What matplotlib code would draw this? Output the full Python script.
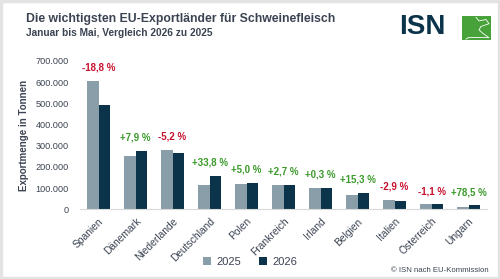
import matplotlib
matplotlib.use("Agg")
import matplotlib.pyplot as plt
import matplotlib.patches as patches
import numpy as np

plt.rcParams['font.family'] = ['Liberation Sans', 'DejaVu Sans']

LAENDER = ["Spanien", "Dänemark", "Niederlande", "Deutschland", "Polen", "Frankreich",
           "Irland", "Belgien", "Italien", "Österreich", "Ungarn"]
EXPORT_2025 = [605000, 253000, 282000, 116000, 118000, 113000, 99000, 67000, 43000, 23000, 10500]
EXPORT_2026 = [491000, 274000, 268000, 156000, 124000, 116000, 99300, 78000, 41500, 22700, 18700]
AENDERUNG = ["-18,8 %", "+7,9 %", "-5,2 %", "+33,8 %", "+5,0 %", "+2,7 %",
             "+0,3 %", "+15,3 %", "-2,9 %", "-1,1 %", "+78,5 %"]
Y_TICKS = [0, 100000, 200000, 300000, 400000, 500000, 600000, 700000]

C_2025 = "#8a9ea9"
C_2026 = "#0b3349"
C_TEXT = "#3b4352"
C_ROT = "#c8102e"
C_GRUEN = "#3a9a2a"


def fmt_de(v):
    return "{:,}".format(int(v)).replace(",", ".")


fig = plt.figure(figsize=(5, 2.79), dpi=100)
fig.patch.set_facecolor("white")

# light frame round the whole picture
fig.add_artist(patches.Rectangle((0.002, 0.003), 0.996, 0.994, transform=fig.transFigure,
                                 fill=False, edgecolor="#e3e3e3", linewidth=2.5))

ax = fig.add_axes([0.16, 0.2498, 0.814, 0.5316])

x = np.arange(len(LAENDER))
w = 0.30
ax.bar(x - w / 2, EXPORT_2025, w, color=C_2025, label="2025")
ax.bar(x + w / 2, EXPORT_2026, w, color=C_2026, label="2026")

for i in range(len(LAENDER)):
    top = max(EXPORT_2025[i], EXPORT_2026[i])
    col = C_ROT if AENDERUNG[i].startswith("-") else C_GRUEN
    ax.annotate(AENDERUNG[i], (x[i], top), xytext=(0, 6), textcoords="offset points",
                ha="center", va="bottom", fontsize=7, fontweight="bold", color=col)

ax.set_xlim(-0.5, len(LAENDER) - 0.5)
ax.set_ylim(0, 700000)
ax.set_yticks(Y_TICKS)
ax.set_yticklabels([fmt_de(v) for v in Y_TICKS], fontsize=6.6, color=C_TEXT)
ax.set_xticks(x)
ax.set_xticklabels(LAENDER, rotation=45, ha="right", rotation_mode="anchor",
                   fontsize=7.4, color=C_TEXT)
ax.tick_params(axis="y", length=0, pad=8)
ax.tick_params(axis="x", length=0, pad=5)
for s in ["top", "right", "left"]:
    ax.spines[s].set_visible(False)
ax.spines["bottom"].set_color("#d9d9d9")
ax.set_ylabel("Exportmenge in Tonnen", fontsize=7, fontweight="bold", color=C_TEXT, labelpad=4.5)

leg = fig.legend(loc="center", bbox_to_anchor=(0.5, 0.062), ncol=2, frameon=False,
                 fontsize=8, handlelength=0.7, handleheight=0.7, columnspacing=1.6,
                 handletextpad=0.5)
for t in leg.get_texts():
    t.set_color(C_TEXT)

# titles
fig.text(0.052, 0.932, "Die wichtigsten EU-Exportländer für Schweinefleisch",
         fontsize=8.8, fontweight="bold", color=C_TEXT, va="center")
fig.text(0.052, 0.882, "Januar bis Mai, Vergleich 2026 zu 2025",
         fontsize=7.3, fontweight="bold", color=C_TEXT, va="center")

# logo
fig.text(0.799, 0.902, "ISN", fontsize=20, fontweight="bold", color=C_2026, va="center")
fig.add_artist(patches.Rectangle((0.924, 0.855), 0.058, 0.088, transform=fig.transFigure,
                                 facecolor="#47a23a", edgecolor="none"))
fig.add_artist(plt.Line2D([0.952, 0.958, 0.972, 0.978, 0.962, 0.958, 0.966, 0.978, 0.938, 0.932],
                          [0.938, 0.925, 0.930, 0.915, 0.905, 0.893, 0.880, 0.865, 0.866, 0.860],
                          transform=fig.transFigure, color="white", linewidth=0.6))

fig.text(0.978, 0.032, "© ISN nach EU-Kommission", fontsize=5.6, color=C_TEXT,
         ha="right", va="center")

fig.savefig("out.png", dpi=100)
